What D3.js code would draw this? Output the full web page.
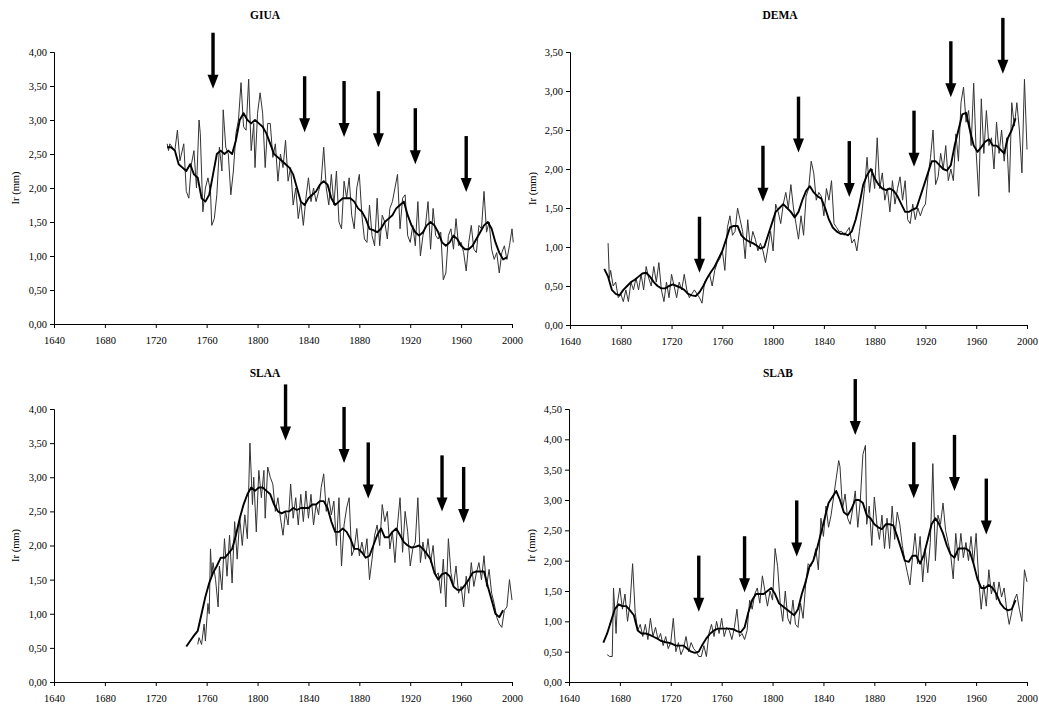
<!DOCTYPE html>
<html><head><meta charset="utf-8">
<script src="https://cdn.jsdelivr.net/npm/d3@7"></script>
<style>
body{margin:0;background:#fff;}
text{font-family:"Liberation Serif","Times New Roman",serif;fill:#000;}
</style></head>
<body>
<svg id="c" width="1039" height="705"></svg>
<script>
// ---------- DATA ----------
const xTicks = [1640,1680,1720,1760,1800,1840,1880,1920,1960,2000];
const titles = ["GIUA","DEMA","SLAA","SLAB"];
const yMaxes = [4.0,3.5,4.0,4.5];
const yLabel = "Ir (mm)";

// annual ring width (thin line) [year, mm]
const giuaRaw = [[1729,2.65],[1730,2.55],[1731,2.65],[1733,2.6],[1735,2.55],[1737,2.85],[1739,2.4],[1742,2.65],[1744,1.95],[1746,1.85],[1748,2.35],[1750,2.55],[1752,2.0],[1754,3.0],[1755,2.8],[1757,1.65],[1759,2.0],[1761,2.15],[1763,1.95],[1764,1.45],[1766,1.55],[1768,1.9],[1770,2.6],[1772,2.25],[1773,3.15],[1775,2.6],[1777,2.5],[1779,1.9],[1781,2.25],[1783,2.8],[1785,3.0],[1787,3.55],[1789,2.9],[1791,2.85],[1793,3.6],[1795,2.55],[1797,2.95],[1798,2.3],[1800,3.1],[1802,3.4],[1804,3.1],[1806,2.3],[1808,2.95],[1810,2.95],[1812,2.45],[1814,2.65],[1816,2.1],[1818,2.5],[1820,2.3],[1822,2.7],[1824,2.1],[1826,2.3],[1828,1.75],[1830,2.0],[1832,1.55],[1834,1.8],[1836,1.45],[1838,1.85],[1840,2.15],[1842,1.8],[1844,2.0],[1846,1.8],[1848,1.95],[1850,2.1],[1852,2.6],[1854,2.0],[1856,1.75],[1858,2.2],[1860,1.75],[1862,2.25],[1864,1.5],[1866,1.4],[1868,2.1],[1870,1.85],[1872,2.15],[1874,1.6],[1876,1.4],[1878,2.0],[1880,2.2],[1882,1.6],[1884,1.25],[1886,1.2],[1888,1.75],[1890,1.3],[1892,1.15],[1894,1.85],[1896,1.15],[1898,1.6],[1900,1.5],[1902,1.25],[1904,1.7],[1906,1.8],[1908,2.0],[1910,2.2],[1912,1.4],[1914,1.85],[1916,1.9],[1918,1.3],[1920,1.2],[1922,1.45],[1924,1.15],[1926,1.8],[1928,1.0],[1930,1.3],[1932,1.45],[1934,1.8],[1936,1.1],[1938,1.7],[1940,1.3],[1942,1.25],[1944,1.35],[1946,0.65],[1948,0.75],[1950,1.3],[1952,1.4],[1954,1.1],[1956,1.55],[1958,1.15],[1960,1.2],[1962,1.05],[1964,0.78],[1966,1.2],[1968,1.45],[1970,1.1],[1972,1.05],[1974,1.45],[1976,1.4],[1978,1.95],[1980,1.35],[1982,1.5],[1984,1.1],[1986,0.95],[1988,1.05],[1990,0.75],[1992,1.05],[1994,1.15],[1996,0.95],[1998,1.15],[2000,1.4],[2001,1.2]];
const demaRaw = [[1670,1.05],[1671,0.6],[1672,0.7],[1674,0.5],[1676,0.55],[1678,0.35],[1680,0.4],[1682,0.3],[1684,0.45],[1686,0.3],[1688,0.55],[1690,0.45],[1692,0.6],[1694,0.45],[1696,0.65],[1698,0.45],[1700,0.75],[1702,0.6],[1704,0.5],[1706,0.75],[1708,0.55],[1710,0.8],[1712,0.45],[1714,0.3],[1716,0.55],[1718,0.35],[1720,0.65],[1722,0.5],[1724,0.35],[1726,0.55],[1728,0.45],[1730,0.65],[1732,0.45],[1734,0.35],[1736,0.4],[1738,0.45],[1740,0.4],[1742,0.35],[1744,0.28],[1746,0.55],[1748,0.6],[1750,0.65],[1752,0.5],[1754,0.7],[1756,0.8],[1758,0.85],[1760,0.95],[1762,0.7],[1764,1.25],[1766,1.4],[1768,1.15],[1770,1.2],[1772,1.5],[1774,1.35],[1776,1.2],[1778,0.85],[1780,1.35],[1782,1.0],[1784,1.2],[1786,1.1],[1788,0.95],[1790,1.05],[1792,0.95],[1794,0.8],[1796,1.0],[1798,1.2],[1800,0.95],[1802,1.55],[1804,1.45],[1806,1.3],[1808,1.55],[1810,1.7],[1812,1.5],[1814,1.8],[1816,1.5],[1818,1.3],[1820,1.1],[1822,1.4],[1824,1.15],[1826,1.65],[1828,1.75],[1830,2.1],[1832,1.95],[1834,1.6],[1836,1.7],[1838,1.65],[1840,1.4],[1842,1.75],[1844,1.6],[1846,1.85],[1848,1.3],[1850,1.25],[1852,1.2],[1854,1.2],[1856,1.15],[1858,1.2],[1860,1.25],[1862,1.05],[1864,1.1],[1866,0.95],[1868,1.2],[1870,1.45],[1872,1.75],[1874,2.15],[1876,1.7],[1878,2.0],[1880,1.75],[1882,2.4],[1884,1.75],[1886,1.95],[1888,1.6],[1890,1.75],[1892,1.45],[1894,1.85],[1896,1.55],[1898,1.75],[1900,1.9],[1902,1.6],[1904,1.85],[1906,1.35],[1908,1.3],[1910,1.55],[1912,1.35],[1914,1.5],[1916,1.4],[1918,1.5],[1920,1.55],[1922,1.9],[1924,2.15],[1926,2.5],[1928,1.8],[1930,1.9],[1932,2.2],[1934,2.0],[1936,2.3],[1938,1.85],[1940,2.0],[1942,1.85],[1944,2.45],[1946,2.1],[1948,2.85],[1950,3.05],[1952,2.6],[1954,2.75],[1956,2.3],[1958,3.1],[1960,2.2],[1962,1.65],[1964,2.9],[1966,2.2],[1968,2.75],[1970,2.3],[1972,2.4],[1974,2.0],[1976,2.6],[1978,2.2],[1980,2.5],[1982,2.1],[1984,2.4],[1986,1.7],[1988,2.85],[1990,2.55],[1992,2.85],[1994,2.5],[1996,1.95],[1998,3.15],[2000,2.25]];
const slaaRaw = [[1753,0.55],[1754,0.65],[1756,0.55],[1758,0.85],[1759,0.6],[1761,1.15],[1762,1.0],[1763,1.95],[1764,1.55],[1765,1.75],[1767,1.5],[1769,1.1],[1770,1.7],[1772,1.35],[1774,2.1],[1776,1.55],[1778,2.15],[1780,1.45],[1782,2.35],[1784,1.8],[1786,2.4],[1788,2.0],[1790,2.45],[1792,2.1],[1794,3.5],[1796,2.6],[1797,3.0],[1799,2.2],[1801,3.1],[1803,2.7],[1805,3.1],[1806,2.4],[1808,3.15],[1810,3.0],[1812,2.9],[1814,2.5],[1816,2.7],[1818,2.4],[1820,2.15],[1822,2.5],[1824,2.3],[1826,2.9],[1828,2.4],[1830,2.7],[1832,2.3],[1834,2.75],[1836,2.35],[1838,2.8],[1840,2.4],[1842,2.75],[1844,2.3],[1846,2.6],[1848,2.45],[1850,2.85],[1852,3.05],[1854,2.5],[1856,2.7],[1858,2.45],[1860,2.65],[1862,2.0],[1864,2.7],[1866,1.7],[1868,2.3],[1870,2.55],[1872,2.7],[1874,1.85],[1876,1.95],[1878,2.25],[1880,1.85],[1882,2.05],[1884,1.85],[1886,2.1],[1888,1.5],[1890,1.8],[1892,2.15],[1894,2.3],[1896,2.0],[1898,2.6],[1900,2.35],[1902,2.5],[1904,1.95],[1906,2.2],[1908,1.75],[1910,2.3],[1912,2.7],[1914,1.9],[1916,2.5],[1918,2.2],[1920,1.7],[1922,1.95],[1924,2.05],[1926,2.7],[1928,1.75],[1930,2.05],[1932,1.8],[1934,2.1],[1936,1.75],[1938,2.0],[1940,1.55],[1942,1.6],[1944,1.3],[1946,1.8],[1948,1.1],[1950,2.1],[1952,1.6],[1954,1.4],[1956,1.7],[1958,1.3],[1960,1.4],[1962,1.1],[1964,1.55],[1966,1.3],[1968,1.75],[1970,1.4],[1972,1.6],[1974,1.75],[1976,1.5],[1978,1.85],[1980,1.4],[1982,1.65],[1984,1.3],[1986,1.15],[1988,0.95],[1990,0.85],[1992,0.8],[1994,1.05],[1996,1.1],[1998,1.5],[2000,1.2]];
const slabRaw = [[1670,0.45],[1672,0.42],[1674,0.42],[1675,1.55],[1677,0.8],[1678,1.3],[1680,1.55],[1682,1.2],[1684,1.45],[1686,1.0],[1688,1.3],[1690,1.95],[1692,1.15],[1694,0.85],[1696,0.95],[1698,0.75],[1700,0.95],[1702,0.7],[1704,1.05],[1706,0.75],[1708,0.9],[1710,0.7],[1712,0.8],[1714,0.6],[1716,0.75],[1718,0.55],[1720,0.65],[1722,1.05],[1724,0.5],[1726,0.65],[1728,0.45],[1730,0.55],[1732,0.75],[1734,0.5],[1736,0.65],[1738,0.55],[1740,0.5],[1742,0.42],[1744,0.42],[1746,0.6],[1748,0.42],[1750,0.8],[1752,0.95],[1754,0.75],[1756,1.0],[1758,0.8],[1760,1.05],[1762,0.75],[1764,0.9],[1766,0.85],[1768,0.7],[1770,0.9],[1772,1.2],[1774,0.75],[1776,0.8],[1778,0.7],[1780,0.85],[1782,1.35],[1784,1.2],[1786,1.45],[1788,1.55],[1790,1.3],[1792,1.75],[1794,1.5],[1796,1.25],[1798,1.5],[1800,1.35],[1802,2.2],[1804,1.9],[1806,1.3],[1808,1.0],[1810,1.5],[1812,1.05],[1814,0.95],[1816,1.35],[1818,0.95],[1820,0.9],[1822,1.3],[1824,1.05],[1826,1.6],[1828,1.95],[1830,1.9],[1832,2.0],[1834,2.2],[1836,1.85],[1838,2.7],[1840,2.4],[1842,2.9],[1844,2.55],[1846,2.75],[1848,3.05],[1850,3.35],[1852,3.65],[1853,3.55],[1855,2.85],[1857,3.1],[1859,2.7],[1861,2.6],[1863,2.85],[1865,3.15],[1867,2.55],[1869,3.0],[1871,3.75],[1873,3.9],[1874,2.6],[1876,2.9],[1878,2.25],[1880,3.05],[1882,2.6],[1884,2.35],[1886,2.75],[1888,2.2],[1890,2.7],[1892,2.2],[1894,2.9],[1896,2.35],[1898,2.8],[1900,2.6],[1902,2.25],[1904,2.0],[1906,1.8],[1908,1.6],[1910,2.05],[1912,2.45],[1914,1.95],[1916,2.4],[1918,1.65],[1920,2.2],[1922,1.8],[1924,2.3],[1926,3.6],[1928,2.0],[1930,2.75],[1932,2.6],[1934,2.95],[1936,2.5],[1938,2.3],[1940,2.1],[1942,1.7],[1944,2.45],[1946,2.0],[1948,2.45],[1950,2.05],[1952,2.3],[1954,2.0],[1956,2.4],[1958,1.95],[1960,2.45],[1962,1.7],[1964,1.2],[1966,1.6],[1968,1.25],[1970,1.85],[1972,1.45],[1974,1.65],[1976,1.35],[1978,1.65],[1980,1.4],[1982,1.55],[1984,1.2],[1986,0.95],[1988,1.15],[1990,1.35],[1992,1.45],[1994,1.2],[1996,1.0],[1998,1.85],[2000,1.65]];

// smoothed curve (thick line): first year, then a value every 3 years
const smoothStarts = [1729,1667,1744,1667];
const giuaSmooth = [2.6,2.6,2.55,2.35,2.3,2.25,2.35,2.2,2.15,1.85,1.8,1.9,2.2,2.5,2.55,2.5,2.55,2.5,2.7,3.0,3.1,3.0,2.95,3.0,2.95,2.9,2.8,2.65,2.5,2.45,2.4,2.35,2.3,2.2,2.0,1.8,1.75,1.85,1.9,1.95,2.05,2.1,2.05,1.85,1.75,1.8,1.85,1.85,1.85,1.8,1.7,1.65,1.55,1.4,1.38,1.35,1.4,1.5,1.55,1.6,1.7,1.75,1.8,1.6,1.45,1.35,1.3,1.35,1.45,1.5,1.45,1.35,1.2,1.15,1.2,1.3,1.25,1.15,1.1,1.1,1.15,1.25,1.35,1.45,1.5,1.4,1.2,1.05,0.95,0.98];
const demaSmooth = [0.72,0.62,0.45,0.4,0.38,0.45,0.5,0.55,0.58,0.62,0.66,0.67,0.62,0.55,0.5,0.47,0.47,0.5,0.52,0.5,0.48,0.45,0.4,0.38,0.37,0.42,0.5,0.6,0.68,0.75,0.85,0.95,1.1,1.25,1.27,1.27,1.15,1.1,1.07,1.05,1.02,0.98,1.0,1.15,1.3,1.45,1.5,1.55,1.5,1.45,1.38,1.45,1.6,1.72,1.78,1.7,1.65,1.62,1.5,1.35,1.25,1.2,1.17,1.17,1.15,1.2,1.35,1.55,1.8,1.92,2.0,1.88,1.8,1.75,1.73,1.75,1.72,1.65,1.55,1.45,1.45,1.48,1.5,1.65,1.8,1.95,2.1,2.1,2.05,2.0,1.98,2.05,2.3,2.5,2.7,2.72,2.5,2.3,2.22,2.28,2.35,2.38,2.3,2.3,2.25,2.2,2.4,2.5,2.65];
const slaaSmooth = [0.52,0.6,0.68,0.75,1.0,1.25,1.45,1.6,1.7,1.82,1.82,1.88,1.95,2.15,2.4,2.6,2.75,2.85,2.8,2.85,2.85,2.8,2.75,2.6,2.5,2.47,2.5,2.5,2.55,2.52,2.55,2.55,2.55,2.6,2.6,2.65,2.65,2.55,2.35,2.2,2.2,2.25,2.2,2.1,1.95,1.95,1.9,1.82,1.85,2.0,2.15,2.25,2.12,2.12,2.2,2.25,2.15,2.05,2.0,1.97,1.98,2.0,1.95,1.88,1.8,1.6,1.5,1.58,1.6,1.55,1.4,1.35,1.35,1.42,1.5,1.6,1.62,1.62,1.62,1.4,1.2,1.0,0.95,1.05];
const slabSmooth = [0.65,0.8,1.0,1.2,1.28,1.25,1.25,1.18,1.1,0.85,0.8,0.8,0.78,0.75,0.72,0.68,0.66,0.65,0.63,0.6,0.6,0.6,0.55,0.5,0.48,0.5,0.62,0.72,0.8,0.85,0.88,0.88,0.88,0.88,0.87,0.84,0.82,0.9,1.15,1.35,1.45,1.45,1.45,1.5,1.55,1.45,1.3,1.25,1.2,1.15,1.1,1.2,1.45,1.65,1.9,2.0,2.2,2.45,2.7,2.95,3.05,3.15,3.0,2.8,2.75,2.85,3.0,3.0,2.95,2.75,2.7,2.6,2.55,2.52,2.6,2.6,2.58,2.4,2.2,2.0,1.98,2.08,2.08,1.95,2.1,2.35,2.6,2.7,2.6,2.45,2.25,2.1,2.05,2.2,2.2,2.2,2.15,1.95,1.7,1.55,1.55,1.6,1.55,1.45,1.3,1.22,1.18,1.2,1.35];

// arrows: [year, value at arrow tip]
const giuaArrows = [[1765,3.46],[1837,2.82],[1868,2.75],[1895,2.6],[1924,2.35],[1964,1.94]];
const demaArrows = [[1742,0.67],[1792,1.58],[1820,2.21],[1860,1.64],[1911,2.03],[1940,2.92],[1981,3.22]];
const slaaArrows = [[1822,3.54],[1868,3.21],[1887,2.69],[1945,2.5],[1962,2.33]];
const slabArrows = [[1742,1.16],[1778,1.48],[1819,2.07],[1865,4.07],[1911,3.03],[1943,3.15],[1968,2.43]];

// ---------- LAYOUT ----------
const boxes = [
  {l:54, r:512, t:52, b:324, tx:265, ty:19, lx:15},
  {l:570, r:1027, t:52, b:325, tx:780, ty:19, lx:532},
  {l:54, r:512, t:409, b:682, tx:265, ty:377, lx:15},
  {l:569, r:1027, t:409, b:682, tx:778, ty:377, lx:531}
];
const raws = [giuaRaw, demaRaw, slaaRaw, slabRaw];
const smooths = [giuaSmooth, demaSmooth, slaaSmooth, slabSmooth];
const arrowsAll = [giuaArrows, demaArrows, slaaArrows, slabArrows];

const svg = d3.select("#c");
const fmt = v => d3.format(".2f")(v).replace(".", ",");

boxes.forEach((bx, i) => {
  const x = d3.scaleLinear().domain([1640, 2000]).range([bx.l, bx.r]);
  const y = d3.scaleLinear().domain([0, yMaxes[i]]).range([bx.b, bx.t]);
  const g = svg.append("g");

  const yAx = g.append("g").attr("transform", `translate(${bx.l},0)`)
    .call(d3.axisLeft(y).tickValues(d3.range(0, yMaxes[i] + 0.001, 0.5)).tickFormat(fmt).tickSize(4).tickPadding(3));
  const xAx = g.append("g").attr("transform", `translate(0,${bx.b})`)
    .call(d3.axisBottom(x).tickValues(xTicks).tickFormat(d3.format("d")).tickSize(4).tickPadding(9));
  [yAx, xAx].forEach(a => {
    a.select(".domain").attr("stroke", "#000").attr("stroke-width", 1);
    a.selectAll(".tick line").attr("stroke", "#000");
    a.selectAll("text").style("font-family", "Liberation Serif, serif").style("font-size", "10.5px").attr("fill", "#000");
  });

  g.append("text").attr("x", bx.tx).attr("y", bx.ty).attr("text-anchor", "middle")
    .style("font-size", "11.5px").style("font-weight", "bold").text(titles[i]);
  g.append("text").attr("transform", `translate(${bx.lx + 4},${(bx.t + bx.b) / 2}) rotate(-90)`)
    .attr("text-anchor", "middle").style("font-size", "10.5px").text(yLabel);

  const line = d3.line().x(d => x(d[0])).y(d => y(d[1]));
  g.append("path").datum(raws[i]).attr("d", line)
    .attr("fill", "none").attr("stroke", "#333").attr("stroke-width", 1).attr("stroke-linejoin", "miter");
  const sm = smooths[i].map((v, k) => [smoothStarts[i] + 3 * k, v]);
  g.append("path").datum(sm).attr("d", line)
    .attr("fill", "none").attr("stroke", "#000").attr("stroke-width", 1.9).attr("stroke-linejoin", "round");

  // arrows
  const L = 56, hh = 14, hw = 5.5;
  arrowsAll[i].forEach(a => {
    const ax = x(a[0]), tip = y(a[1]);
    g.append("rect").attr("x", ax - 1.7).attr("y", tip - L).attr("width", 3.4).attr("height", L - hh + 1).attr("fill", "#000");
    g.append("path").attr("d", `M${ax - hw},${tip - hh}L${ax + hw},${tip - hh}L${ax},${tip}Z`).attr("fill", "#000");
  });
});
</script>
</body></html>
